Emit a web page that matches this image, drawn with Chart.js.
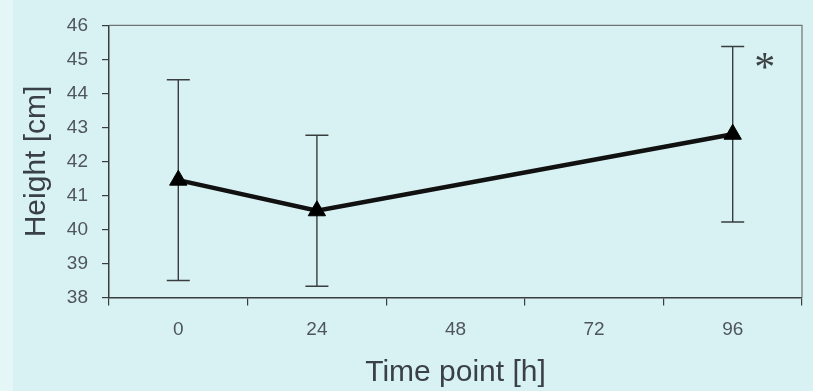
<!DOCTYPE html>
<html>
<head>
<meta charset="utf-8">
<script src="https://cdn.jsdelivr.net/npm/chart.js@4/dist/chart.umd.min.js"></script>
<style>
  html, body { margin: 0; padding: 0; }
  body { background: linear-gradient(to right, #e4f6f6 0, #e4f6f6 13px, #d8f2f3 13px, #d8f2f3 100%); }
  .wrap { position: relative; width: 813px; height: 391px; }
</style>
</head>
<body>
<div class="wrap"><canvas id="c"></canvas></div>
<script>
// time points on the x axis (hours)
const timePoints = ['0', '24', '48', '72', '96'];
// mean height per time point, cm (no measurement at 48 h and 72 h)
const heightMean = [41.45, 40.55, null, null, 42.8];
// error bar half-width (SD), cm
const heightSD = [2.95, 2.22, null, null, 2.58];
// y axis range
const yMin = 38, yMax = 46, yStep = 1;
// significance marks: category index + value where the star sits
const sigIndex = [4];
const sigValue = [44.65];

const txtColor = '#4f555c';
const titleColor = '#3a4146';
const axisColor = '#3a3d40';
const fam = '"Liberation Sans", Arial, sans-serif';

const errorBars = {
  id: 'errorBars',
  beforeDatasetsDraw(chart) {
    const ctx = chart.ctx, x = chart.scales.x, y = chart.scales.y;
    ctx.save();
    ctx.strokeStyle = '#3a3d3f';
    ctx.lineWidth = 1.4;
    heightMean.forEach((m, i) => {
      if (m == null) return;
      const px = x.getPixelForValue(i);
      const top = y.getPixelForValue(m + heightSD[i]);
      const bot = y.getPixelForValue(m - heightSD[i]);
      ctx.beginPath();
      ctx.moveTo(px, top); ctx.lineTo(px, bot);
      ctx.moveTo(px - 11.5, top); ctx.lineTo(px + 11.5, top);
      ctx.moveTo(px - 11.5, bot); ctx.lineTo(px + 11.5, bot);
      ctx.stroke();
    });
    // frame top and right
    const a = chart.chartArea;
    ctx.strokeStyle = '#6f7475';
    ctx.lineWidth = 1.2;
    ctx.beginPath();
    ctx.moveTo(a.left, a.top); ctx.lineTo(a.right, a.top); ctx.lineTo(a.right, a.bottom);
    ctx.stroke();
    ctx.restore();
  },
  afterDatasetsDraw(chart) {
    const ctx = chart.ctx, x = chart.scales.x, y = chart.scales.y;
    ctx.save();
    ctx.fillStyle = '#3c4145';
    ctx.font = '42px "Liberation Serif", "Times New Roman", serif';
    ctx.textAlign = 'center';
    ctx.textBaseline = 'middle';
    sigIndex.forEach((idx, k) => {
      ctx.fillText('*', x.getPixelForValue(idx) + 32, y.getPixelForValue(sigValue[k]) - 1);
    });
    ctx.restore();
  }
};

new Chart(document.getElementById('c').getContext('2d'), {
  type: 'line',
  data: {
    labels: timePoints,
    datasets: [{
      data: heightMean,
      borderColor: '#111',
      borderWidth: 4.5,
      spanGaps: true,
      tension: 0,
      pointStyle: 'triangle',
      pointRadius: 10,
      pointBackgroundColor: '#000',
      pointBorderColor: '#000',
      pointBorderWidth: 1
    }]
  },
  options: {
    responsive: true, maintainAspectRatio: false, animation: false,
    layout: { padding: { left: 0, right: 3, top: 16.5, bottom: 0 } },
    plugins: { legend: { display: false }, tooltip: { enabled: false } },
    scales: {
      x: {
        offset: true,
        grid: { offset: true, drawOnChartArea: false, tickLength: 8, color: axisColor, lineWidth: 1.2 },
        border: { color: axisColor, width: 1.5 },
        ticks: { color: txtColor, padding: 13, font: { family: fam, size: 19 } },
        title: { display: true, text: 'Time point [h]', color: titleColor, padding: { top: 0, bottom: 0 },
                 font: { family: fam, size: 30 } },
        afterFit(s) { s.height = 93.5; }
      },
      y: {
        min: yMin, max: yMax,
        grid: { drawOnChartArea: false, tickLength: 7, color: axisColor, lineWidth: 1.2 },
        border: { color: axisColor, width: 1.5 },
        ticks: { stepSize: yStep, color: txtColor, padding: 14, font: { family: fam, size: 19 } },
        title: { display: true, text: 'Height [cm]', color: titleColor, padding: { top: 18.5, bottom: 0 },
                 font: { family: fam, size: 30 } },
        afterFit(s) { s.width = 109; }
      }
    }
  },
  plugins: [errorBars]
});
</script>
</body>
</html>
